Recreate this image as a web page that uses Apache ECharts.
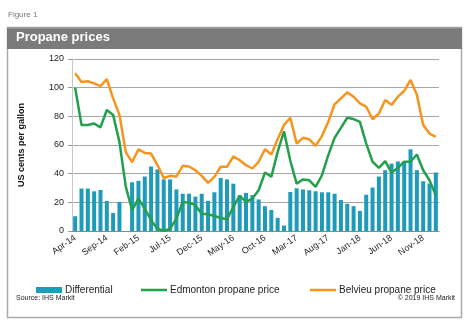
<!DOCTYPE html>
<html><head><meta charset="utf-8">
<script src="https://cdn.jsdelivr.net/npm/echarts@6/dist/echarts.min.js"></script>
<style>html,body{margin:0;padding:0;background:#fff}#c{width:471px;height:325px}</style>
</head><body><div id="c"></div>
<script>
var months = ['Apr-14','May-14','Jun-14','Jul-14','Aug-14','Sep-14','Oct-14','Nov-14','Dec-14','Jan-15','Feb-15','Mar-15','Apr-15','May-15','Jun-15','Jul-15','Aug-15','Sep-15','Oct-15','Nov-15','Dec-15','Jan-16','Feb-16','Mar-16','Apr-16','May-16','Jun-16','Jul-16','Aug-16','Sep-16','Oct-16','Nov-16','Dec-16','Jan-17','Feb-17','Mar-17','Apr-17','May-17','Jun-17','Jul-17','Aug-17','Sep-17','Oct-17','Nov-17','Dec-17','Jan-18','Feb-18','Mar-18','Apr-18','May-18','Jun-18','Jul-18','Aug-18','Sep-18','Oct-18','Nov-18','Dec-18','Jan-19'];
var differential = [10.3,29.6,29.6,27.7,28.6,21,12.5,20.3,null,34,35,38,45,43,36,36,29,26,26,24,26,21,27,37,36,33,25,26.6,25,22,17.3,14.7,9.2,3.8,27.2,29.8,29,28.4,27.7,27,27,26,21.6,19,17.3,14,25.3,30.3,38,42.4,47,48.5,48.5,57,42.4,34.7,33.1,40.8];
var edmonton = [100,74,74,75,72.3,84.4,81,62,31,14.5,22.6,15.6,7.5,1.6,0,1.6,8.6,20.3,19.8,18,12,11.7,10.5,9.1,8.2,16.8,24.5,20.3,22.6,28.4,40.8,37.8,55.2,69.5,49,33,36,35.4,30.8,38.9,52.9,65,72,79,78.1,76.2,61,48.3,44,48.7,40.8,44,48.3,48.3,53.4,42.4,35.4,25];
var belvieu = [110,104,104.5,103,101,106,92.5,81,55,48,57,54.5,54,46,37,38.5,38,45.5,45,42.4,38.5,33.6,37.8,44.8,44.8,52,49.4,45.9,43.6,48.3,57,53.4,64,74,79,61,65,64,59.4,66.2,76.2,88.3,92.5,96.7,93.7,89,86.7,78,82,91.4,88,93.7,97.7,105.4,95,74,68,65.7];
var yTicks = [0,20,40,60,80,100,120];

var chart = echarts.init(document.getElementById('c'), null, {renderer:'canvas'});
var font = 'Liberation Sans, Arial, sans-serif';
chart.setOption({
  animation:false,
  textStyle:{fontFamily:font},
  grid:{left:72,right:32,top:59,bottom:94,containLabel:false},
  xAxis:{type:'category',data:months,boundaryGap:true,
    axisLine:{lineStyle:{color:'#888',width:1}},
    axisTick:{interval:4,length:4,lineStyle:{color:'#888'}},
    axisLabel:{interval:4,rotate:35,fontSize:9,color:'#222',margin:6,fontFamily:font}},
  yAxis:{type:'value',min:yTicks[0],max:yTicks[yTicks.length-1],interval:20,
    name:'US cents per gallon',nameLocation:'middle',nameRotate:90,nameGap:46,
    nameTextStyle:{fontSize:9,fontWeight:'bold',color:'#111',fontFamily:font},
    axisLine:{show:true,lineStyle:{color:'#c8c8c8'}},
    axisTick:{show:true,length:4,lineStyle:{color:'#999'}},
    axisLabel:{fontSize:9,color:'#222',margin:8,fontFamily:font},
    splitLine:{lineStyle:{color:'#a6a6a6',width:1}}},
  legend:[
    {data:[{name:'Differential',icon:'rect'}],left:31,top:280,itemWidth:26,itemHeight:6,itemGap:4,
     textStyle:{fontSize:10,color:'#222',fontFamily:font,padding:[0,0,0,-2]}},
    {data:[{name:'Edmonton propane price',icon:'rect'}],left:136,top:280,itemWidth:26,itemHeight:2.5,
     textStyle:{fontSize:10,color:'#222',fontFamily:font,padding:[0,0,0,-2]}},
    {data:[{name:'Belvieu propane price',icon:'rect'}],left:305,top:280,itemWidth:26,itemHeight:2.5,
     textStyle:{fontSize:10,color:'#222',fontFamily:font,padding:[0,0,0,-2]}}
  ],
  series:[
    {name:'Differential',type:'bar',data:differential,barWidth:4,itemStyle:{color:'#1e9aba'}},
    {name:'Edmonton propane price',type:'line',data:edmonton,symbol:'none',smooth:false,
     lineStyle:{color:'#22a04b',width:2.5},itemStyle:{color:'#22a04b'}},
    {name:'Belvieu propane price',type:'line',data:belvieu,symbol:'none',smooth:false,
     lineStyle:{color:'#f7941d',width:2.5},itemStyle:{color:'#f7941d'}}
  ],
  graphic:[
    {type:'text',left:8,top:11,style:{text:'Figure 1',fontSize:8,fill:'#777',fontFamily:font}},
    {type:'rect',shape:{x:7,y:27,width:455,height:22},style:{fill:'#7b7b7b'},z:-1},
    {type:'rect',shape:{x:7,y:27,width:455,height:1.5},style:{fill:'#a0a0a0'},z:-1},
    {type:'text',left:16,top:31,style:{text:'Propane prices',fontSize:13,fontWeight:'bold',fill:'#fff',fontFamily:font}},
    {type:'rect',shape:{x:7.5,y:27.5,width:454,height:290},style:{fill:'none',stroke:'#aaa',lineWidth:1.5},z:-2},
    {type:'text',left:16,top:295,style:{text:'Source: IHS Markit',fontSize:7,fill:'#222',fontFamily:font}},
    {type:'text',right:16,top:295,style:{text:'\u00a9 2019 IHS Markit',fontSize:7,fill:'#222',fontFamily:font}}
  ]
});
</script></body></html>
